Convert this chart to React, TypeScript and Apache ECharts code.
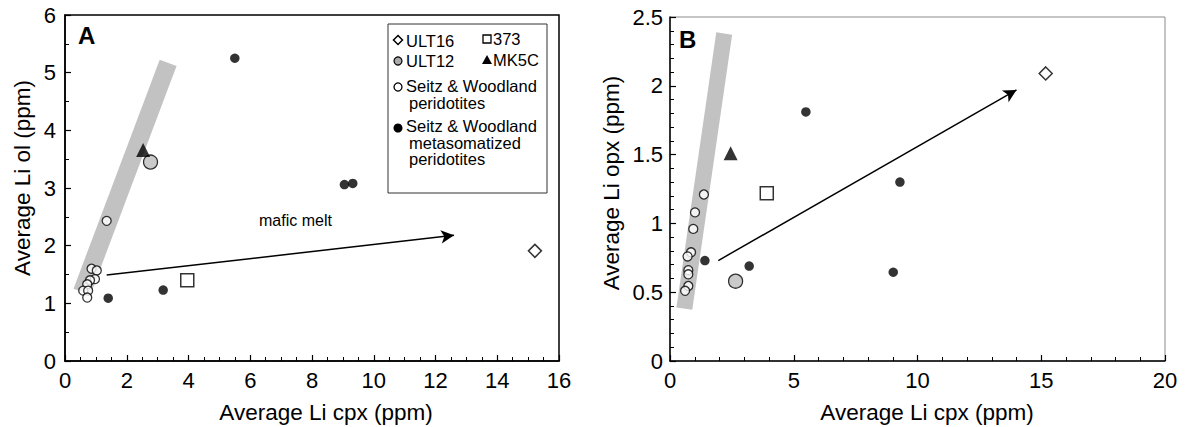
import React, { useEffect, useRef } from "react";
import * as echarts from "echarts";

// ---------- Panel A : Li ol vs Li cpx ----------
const swPeridotitesA = [
  [1.35, 2.43], [0.86, 1.6], [1.03, 1.57], [0.97, 1.42], [0.81, 1.4],
  [0.72, 1.33], [0.59, 1.22], [0.75, 1.22], [0.72, 1.1],
];
const swMetaA = [[5.5, 5.25], [1.4, 1.09], [3.18, 1.23], [9.05, 3.06], [9.32, 3.08]];
const ult16A = [[15.22, 1.91]];
const ult12A = [[2.77, 3.45]];
const s373A = [[3.96, 1.4]];
const mk5cA = [[2.53, 3.66]];
const bandA = [[0.55, 1.2], [3.34, 5.17]];
const arrowA = [[1.35, 1.49], [12.6, 2.18]];

// ---------- Panel B : Li opx vs Li cpx ----------
const swPeridotitesB = [
  [1.37, 1.21], [1.01, 1.08], [0.94, 0.96], [0.85, 0.79], [0.71, 0.76],
  [0.74, 0.66], [0.74, 0.63], [0.74, 0.545], [0.61, 0.51],
];
const swMetaB = [[5.49, 1.81], [1.41, 0.73], [3.2, 0.69], [9.29, 1.3], [9.02, 0.645]];
const ult16B = [[15.18, 2.09]];
const ult12B = [[2.65, 0.58]];
const s373B = [[3.91, 1.22]];
const mk5cB = [[2.45, 1.51]];
const bandB = [[0.58, 0.38], [2.19, 2.38]];
const arrowB = [[1.95, 0.73], [14.0, 1.97]];

// titles
const xTitle = "Average Li cpx (ppm)";
const yTitleA = "Average Li ol (ppm)";
const yTitleB = "Average Li opx (ppm)";

const FONT = "Liberation Sans, Arial, Helvetica, sans-serif";

function axis(gridIndex: number, min: number, max: number, interval: number, minorSplit: number, margin: number, fmt?: (v: number) => string) {
  return {
    type: "value",
    gridIndex,
    min,
    max,
    interval,
    splitLine: { show: false },
    axisLine: { show: true, onZero: false, lineStyle: { color: "#000", width: 1.5 } },
    axisTick: { show: true, inside: true, length: 6, lineStyle: { color: "#000", width: 1.2 } },
    minorTick: { show: true, splitNumber: minorSplit, length: 4, lineStyle: { color: "#000", width: 1 } },
    axisLabel: { color: "#000", fontSize: 22, fontFamily: FONT, margin, formatter: fmt },
  };
}

function panelSeries(idx: number, band: number[][], arrow: number[][], open: number[][], meta: number[][], u16: number[][], u12: number[][], s373: number[][], mk: number[][], bandWidth: number) {
  const common = { xAxisIndex: idx, yAxisIndex: idx, silent: true };
  return [
    {
      ...common,
      type: "line",
      data: band,
      symbol: "none",
      z: 1,
      lineStyle: { color: "#c2c2c2", width: bandWidth, cap: "butt" },
      markLine: {
        silent: true,
        symbol: ["none", "arrow"],
        symbolSize: [10, 13],
        label: { show: false },
        lineStyle: { color: "#000", width: 1.5, type: "solid" },
        emphasis: { disabled: true },
        data: [[{ coord: arrow[0] }, { coord: arrow[1] }]],
      },
    },
    { ...common, type: "scatter", data: open, symbol: "circle", symbolSize: 9, z: 3,
      itemStyle: { color: "#fff", borderColor: "#000", borderWidth: 1.3 } },
    { ...common, type: "scatter", data: meta, symbol: "circle", symbolSize: 9.5, z: 3,
      itemStyle: { color: "#000" } },
    { ...common, type: "scatter", data: u16, symbol: "diamond", symbolSize: 13, z: 3,
      itemStyle: { color: "#fff", borderColor: "#000", borderWidth: 1.5 } },
    { ...common, type: "scatter", data: u12, symbol: "circle", symbolSize: 14, z: 3,
      itemStyle: { color: "#bdbdbd", borderColor: "#000", borderWidth: 1.3 } },
    { ...common, type: "scatter", data: s373, symbol: "rect", symbolSize: 13, z: 3,
      itemStyle: { color: "#fff", borderColor: "#000", borderWidth: 1.5 } },
    { ...common, type: "scatter", data: mk, symbol: "triangle", symbolSize: 14, z: 3,
      itemStyle: { color: "#000" } },
  ];
}

function txt(x: number, y: number, text: string, size: number, extra: any = {}) {
  return {
    type: "text",
    x,
    y,
    silent: true,
    style: { text, fontSize: size, fontFamily: FONT, fill: "#000", verticalAlign: "middle", ...extra },
  };
}

export default function App() {
  const ref = useRef<HTMLDivElement>(null);
  useEffect(() => {
    document.body.style.margin = "0";
    const chart = echarts.init(ref.current!, null, { renderer: "svg" });
    const LF = 16.5;
    const legendGraphics: any[] = [
      { type: "rect", shape: { x: 388, y: 24, width: 159, height: 169 }, style: { fill: "#fff", stroke: "#333", lineWidth: 1 }, z: 5 },
      { type: "polygon", shape: { points: [[398, 35.5], [402.5, 40], [398, 44.5], [393.5, 40]] }, style: { fill: "#fff", stroke: "#000", lineWidth: 1.5 }, z: 6 },
      { ...txt(406, 41, "ULT16", LF), z: 6 },
      { type: "circle", shape: { cx: 398, cy: 61, r: 4 }, style: { fill: "#aaa", stroke: "#000", lineWidth: 1.2 }, z: 6 },
      { ...txt(406, 61, "ULT12", LF), z: 6 },
      { type: "rect", shape: { x: 483, y: 35, width: 8, height: 8 }, style: { fill: "#fff", stroke: "#000", lineWidth: 1.3 }, z: 6 },
      { ...txt(493, 39, "373", LF), z: 6 },
      { type: "polygon", shape: { points: [[487, 55], [492, 64], [482, 64]] }, style: { fill: "#000" }, z: 6 },
      { ...txt(493, 60, "MK5C", LF), z: 6 },
      { type: "circle", shape: { cx: 398, cy: 87, r: 4 }, style: { fill: "#fff", stroke: "#000", lineWidth: 1.3 }, z: 6 },
      { ...txt(406, 86, "Seitz & Woodland", LF), z: 6 },
      { ...txt(409, 102.5, "peridotites", LF), z: 6 },
      { type: "circle", shape: { cx: 398, cy: 128, r: 4.5 }, style: { fill: "#000" }, z: 6 },
      { ...txt(406, 126, "Seitz & Woodland", LF), z: 6 },
      { ...txt(409, 142.5, "metasomatized", LF), z: 6 },
      { ...txt(409, 159, "peridotites", LF), z: 6 },
    ];
    chart.setOption({
      animation: false,
      backgroundColor: "#fff",
      grid: [
        { left: 65, top: 15, width: 494, height: 346, show: true, borderColor: "#000", borderWidth: 1.5, backgroundColor: "transparent" },
        { left: 670, top: 17, width: 495, height: 344, show: true, borderColor: "#8a8a8a", borderWidth: 1, backgroundColor: "transparent" },
      ],
      xAxis: [
        axis(0, 0, 16, 2, 4, 8),
        axis(1, 0, 20, 5, 5, 8),
      ],
      yAxis: [
        axis(0, 0, 6, 1, 2, 9),
        axis(1, 0, 2.5, 0.5, 5, 7, (v: number) => String(v)),
      ],
      series: [
        ...panelSeries(0, bandA, arrowA, swPeridotitesA, swMetaA, ult16A, ult12A, s373A, mk5cA, 18),
        ...panelSeries(1, bandB, arrowB, swPeridotitesB, swMetaB, ult16B, ult12B, s373B, mk5cB, 16),
      ],
      graphic: [
        { ...txt(326, 412, xTitle, 22.5, { align: "center" }) },
        { ...txt(927, 412, xTitle, 22.5, { align: "center" }) },
        { ...txt(22, 178, yTitleA, 22.5, { align: "center" }), rotation: Math.PI / 2 },
        { ...txt(611, 183, yTitleB, 22.5, { align: "center" }), rotation: Math.PI / 2 },
        { ...txt(78, 35, "A", 24, { fontWeight: "bold" }) },
        { ...txt(679, 39, "B", 24, { fontWeight: "bold" }) },
        { ...txt(259, 220, "mafic melt", 16) },
        ...legendGraphics,
      ],
    });
    return () => chart.dispose();
  }, []);
  return <div ref={ref} style={{ width: 1186, height: 427 }} />;
}
